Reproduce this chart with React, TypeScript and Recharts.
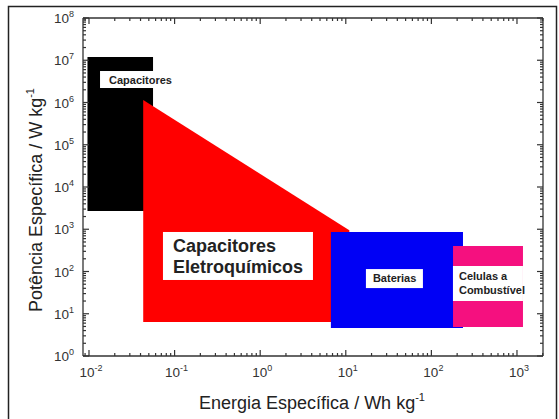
import React from 'react'
import { ComposedChart, Area, Scatter, XAxis, YAxis } from 'recharts'

// expoentes das marcas principais (rótulos 10^n) e subdivisões log
const xExpoentes = [-2, -1, 0, 1, 2, 3]
const yExpoentes = [0, 1, 2, 3, 4, 5, 6, 7, 8]
const subdivisoes = [2, 3, 4, 5, 6, 7, 8, 9]

// energia específica (Wh/kg) nas bordas esquerda/direita de cada região
const energiaCapacitores = [0.0096, 0.056]
const energiaEletroquimicos = [0.043, 11]
const energiaBaterias = [6.7, 234]
const energiaCelulas = [179, 1175]

// potência específica (W/kg): [mín, máx] em cada borda
const potenciaCapacitores = [[2700, 1.2e7], [2700, 1.2e7]]
const potenciaEletroquimicos = [[6.4, 1.15e6], [6.4, 950]]
const potenciaBaterias = [[4.6, 860], [4.6, 860]]
const potenciaCelulas = [[4.85, 400], [4.85, 400]]

// rótulos dentro das regiões
const rotulos = [
  { id: 'cap', x: 0.0374, y: 3.5e6, linhas: ['Capacitores'] },
  { id: 'ele', x: 0.55, y: 233, linhas: ['Capacitores', 'Eletroquímicos'] },
  { id: 'bat', x: 37, y: 68, linhas: ['Baterias'] },
  { id: 'cel', x: 458, y: 52, linhas: ['Celulas a', 'Combustível'] },
]

const FONT = '"Liberation Sans", Arial, sans-serif'

const estiloRotulo: Record<string, any> = {
  cap: { w: 76, h: 17, pad: 9, base: 12.5, lh: 0, fs: 11 },
  ele: { w: 150, h: 48, pad: 10, base: 20, lh: 21, fs: 18 },
  bat: { w: 57, h: 19, pad: 7, base: 13, lh: 0, fs: 11 },
  cel: { w: 70, h: 35, pad: 6, base: 14, lh: 14, fs: 11 },
}

const regioes = [
  { key: 'cap', energia: energiaCapacitores, potencia: potenciaCapacitores, cor: '#000000' },
  { key: 'ele', energia: energiaEletroquimicos, potencia: potenciaEletroquimicos, cor: '#ff0000' },
  { key: 'bat', energia: energiaBaterias, potencia: potenciaBaterias, cor: '#0000f5' },
  { key: 'cel', energia: energiaCelulas, potencia: potenciaCelulas, cor: '#f5107f' },
]

const dados: any[] = []
regioes.forEach((r) => r.energia.forEach((e, i) => dados.push({ x: e, [r.key]: r.potencia[i] })))
dados.sort((a, b) => a.x - b.x)

const xDominio = [Math.pow(10, -2.07), Math.pow(10, 3.304)]
const yDominio = [1, 1e8]

const marcas = (exps: number[], lo: number, hi: number) => {
  const out: number[] = []
  exps.forEach((e) => {
    const base = Math.pow(10, e)
    out.push(base)
    subdivisoes.forEach((m) => out.push(m * base))
  })
  return out.filter((v) => v >= lo * 0.9999 && v <= hi * 1.0001)
}
const xTicks = marcas([-3, ...xExpoentes], xDominio[0], xDominio[1])
const yTicks = marcas(yExpoentes, yDominio[0], yDominio[1])

const MarcaLog = ({ x, y, payload, lado }: any) => {
  const v = payload.value
  const ex = Math.log10(v)
  const n = Math.round(ex)
  const major = Math.abs(ex - n) < 1e-6
  const len = major ? 6 : 3
  let linha
  if (lado === 'bottom') linha = <line x1={x} y1={y} x2={x} y2={y - len} />
  else if (lado === 'top') linha = <line x1={x} y1={y} x2={x} y2={y + len} />
  else if (lado === 'left') linha = <line x1={x} y1={y} x2={x + len} y2={y} />
  else linha = <line x1={x} y1={y} x2={x - len} y2={y} />
  let texto = null
  if (major && lado === 'bottom') {
    texto = (
      <text x={x + 2} y={y + 21} textAnchor="middle" fontSize={13.5} fill="#333" fontFamily={FONT}>
        <tspan>10</tspan>
        <tspan dy={-6} fontSize={9}>{n}</tspan>
      </text>
    )
  } else if (major && lado === 'left') {
    texto = (
      <text x={x - 9} y={y + 5} textAnchor="end" fontSize={13.5} fill="#333" fontFamily={FONT}>
        <tspan>10</tspan>
        <tspan dy={-6} fontSize={9}>{n}</tspan>
      </text>
    )
  }
  return (
    <g>
      <g stroke="#333" strokeWidth={1.2}>{linha}</g>
      {texto}
    </g>
  )
}

const CaixaRotulo = ({ cx, cy, payload }: any) => {
  const st = estiloRotulo[payload.id]
  const left = cx - st.w / 2
  const top = cy - st.h / 2
  return (
    <g>
      <rect x={left} y={top} width={st.w} height={st.h} fill="#fff" />
      {payload.linhas.map((t: string, i: number) => (
        <text key={i} x={left + st.pad} y={top + st.base + i * st.lh} fontSize={st.fs}
          fontWeight="bold" fill="#222" fontFamily={FONT}>{t}</text>
      ))}
    </g>
  )
}

const eixo = { stroke: '#333', strokeWidth: 1.3 }

export default function App() {
  return (
    <div style={{ position: 'absolute', left: 0, top: 0, width: 559, height: 419, background: '#fff' }}>
      <ComposedChart width={559} height={419} data={dados}
        margin={{ top: 8, right: 6, bottom: 23, left: 33 }}>
        <XAxis dataKey="x" type="number" scale="log" domain={xDominio} allowDataOverflow
          ticks={xTicks} interval={0} tickSize={0} tickMargin={0} tickLine={false} height={40}
          axisLine={eixo} tick={(p: any) => <MarcaLog {...p} lado="bottom" />} />
        <XAxis xAxisId="top" orientation="top" dataKey="x" type="number" scale="log" domain={xDominio}
          allowDataOverflow ticks={xTicks} interval={0} tickSize={0} tickMargin={0} tickLine={false}
          height={10} axisLine={eixo} tick={(p: any) => <MarcaLog {...p} lado="top" />} />
        <YAxis type="number" scale="log" domain={yDominio} allowDataOverflow ticks={yTicks}
          interval={0} tickSize={0} tickMargin={0} tickLine={false} width={50} axisLine={eixo}
          tick={(p: any) => <MarcaLog {...p} lado="left" />} />
        <YAxis yAxisId="right" orientation="right" type="number" scale="log" domain={yDominio}
          allowDataOverflow ticks={yTicks} interval={0} tickSize={0} tickMargin={0} tickLine={false}
          width={10} axisLine={eixo} tick={(p: any) => <MarcaLog {...p} lado="right" />} />
        {regioes.map((r) => (
          <Area key={r.key} dataKey={r.key} type="linear" stroke="none" fill={r.cor} fillOpacity={1}
            connectNulls dot={false} activeDot={false} isAnimationActive={false} />
        ))}
        <Scatter data={rotulos} dataKey="y" isAnimationActive={false}
          shape={(p: any) => <CaixaRotulo {...p} />} />
      </ComposedChart>
      <svg width={559} height={419} style={{ position: 'absolute', left: 0, top: 0, pointerEvents: 'none' }}>
        <rect x={8.5} y={6.5} width={548} height={420} fill="none" stroke="#222" strokeWidth={1.5} />
        <text x={312} y={409} textAnchor="middle" fontSize={18} fill="#222" fontFamily={FONT}>
          Energia Específica / Wh kg<tspan dy={-8} fontSize={11}>-1</tspan>
        </text>
        <text transform="translate(42,200) rotate(-90)" textAnchor="middle" fontSize={18} fill="#222"
          fontFamily={FONT}>
          Potência Específica / W kg<tspan dy={-8} fontSize={11}>-1</tspan>
        </text>
      </svg>
    </div>
  )
}
